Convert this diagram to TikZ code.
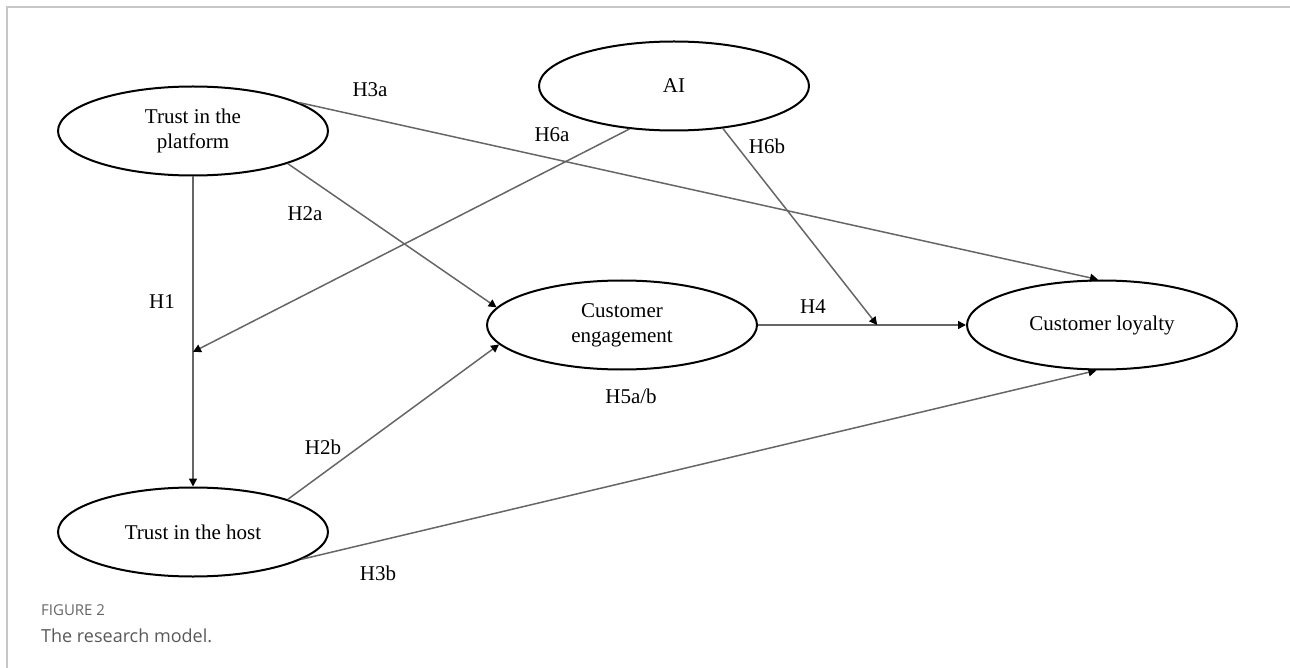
\documentclass[tikz,border=0pt]{standalone}
\usepackage{fontspec}
\setmainfont{Liberation Serif}
\newfontfamily\capfont{Open Sans}
\usetikzlibrary{shapes.geometric,arrows.meta,calc}
\begin{document}
\begin{tikzpicture}[x=1pt,y=-1pt,
  construct/.style={ellipse,draw=black,line width=2pt,minimum width=270pt,minimum height=89pt,inner sep=0pt,align=center,font=\fontsize{21}{25}\selectfont},
  link/.style={draw=black!60,line width=1.5pt,-{Triangle[length=8pt,width=8pt,fill=black,color=black]}},
  hyp/.style={font=\fontsize{21}{25}\selectfont,inner sep=0pt},
  frameline/.style={draw=black!22,line width=1.5pt}]
\useasboundingbox (0,0) rectangle (1290,668);
\draw[frameline] (7,668) coordinate (fb) -- (7,7) coordinate (fc) -- (1290,7) coordinate (fr);

\node[construct] (plat) at (193,131) {Trust in the\\platform};
\node[construct] (ai) at (674,86) {AI};
\node[construct] (ce) at (622,325) {Customer\\engagement};
\node[construct] (cl) at (1102,325) {Customer loyalty};
\node[construct] (host) at (193,532) {Trust in the host};

\coordinate (m1) at ($(plat.center)!0.551!(host.center)$);
\coordinate (m2) at ($(ce.east)!0.573!(cl.west)$);

\draw[link] (plat.270) -- (host.90);
\draw[link] (ai.224) -- (m1);
\draw[link] (plat.-19) -- (ce.172);
\draw[link] (plat.15) -- (cl.95);
\draw[link] (host.19) -- (ce.189);
\draw[link] (host.-14) -- (cl.263);
\draw[link] (ce.east) -- (cl.west);
\draw[link] (ai.-41) -- (m2);

\node[hyp] (h1) at (162,302) {H1};
\node[hyp] (h6a) at (552,135) {H6a};
\node[hyp] (h2a) at (305,214) {H2a};
\node[hyp] (h3a) at (370,90) {H3a};
\node[hyp] (h2b) at (323,447) {H2b};
\node[hyp] (h3b) at (378,573) {H3b};
\node[hyp] (h4) at (813,307) {H4};
\node[hyp] (h6b) at (767,146) {H6b};
\node[hyp] (h5) at (631,396) {H5a/b};

\node[anchor=base west,inner sep=0pt,text=black!60,font=\capfont\fontsize{15}{18}\selectfont] (fig) at (41,615) {FIGURE 2};
\node[anchor=base west,inner sep=0pt,text=black!65,font=\capfont\fontsize{18}{22}\selectfont] (cap) at (41,642) {The research model.};
\end{tikzpicture}
\end{document}
